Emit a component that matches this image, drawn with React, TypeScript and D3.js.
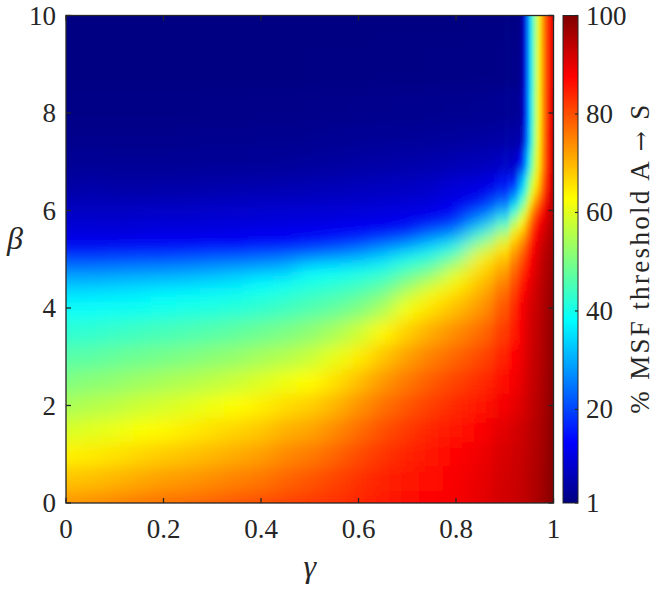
import React from 'react';
import * as d3 from 'd3';

// gamma positions of the sampled columns
const gammaValues = [0, 0.05, 0.1, 0.15, 0.2, 0.25, 0.3, 0.35, 0.4, 0.45, 0.5, 0.55, 0.6, 0.65, 0.7, 0.75, 0.8, 0.85, 0.9, 0.92, 0.935, 0.945, 0.95, 0.955, 0.96, 0.965, 0.97, 0.98, 0.99, 1.0];
// beta positions of the sampled rows
const betaValues = [0, 0.5, 1, 1.5, 2, 2.5, 3, 3.5, 4, 4.25, 4.5, 4.75, 5, 5.25, 5.5, 5.75, 6, 6.25, 6.5, 7, 7.5, 8, 9, 10];

// % MSF threshold, one column per gamma value (rows follow betaValues)
const thresholdByGamma: number[][] = [
  [73, 68.5, 64, 59, 54.5, 50.5, 46.5, 42.5, 38.8, 36, 32, 27, 20, 12.5, 10.5, 9, 7.5, 5.8, 4.3, 3, 2.2, 1.7, 1.3, 1.2],
  [73.5, 69, 64.7, 60, 55.5, 51.3, 47, 42.8, 38.8, 36, 32, 27, 20, 12.5, 10.5, 9, 7.6, 6.2, 4.8, 3.2, 2.2, 1.7, 1.3, 1.2],
  [74.5, 70, 65.6, 61, 56.5, 52.2, 48, 43.6, 39.3, 36.5, 32.5, 27.5, 20.5, 12.5, 10.5, 8.8, 7.5, 6, 4.5, 3, 2.2, 1.7, 1.3, 1.2],
  [75.5, 71.1, 66.8, 62.4, 57.9, 53.4, 48.8, 44.3, 39.8, 37, 33, 28, 21, 13, 10.7, 9, 7.7, 6.1, 4.5, 3, 2.2, 1.7, 1.3, 1.2],
  [76.5, 72.2, 67.8, 63.5, 58.9, 54.3, 49.6, 45, 40.3, 38, 33.5, 28.5, 21, 13, 11, 9.3, 7.9, 6.2, 4.6, 3, 2.2, 1.7, 1.3, 1.2],
  [77, 72.9, 68.8, 64.6, 60.1, 55.3, 50.5, 45.7, 40.9, 38.5, 34, 29, 22, 13.5, 11, 9.3, 8, 6.3, 4.7, 3.1, 2.3, 1.7, 1.3, 1.2],
  [78, 73.9, 69.9, 65.8, 61.5, 56.5, 51.5, 46.5, 41.5, 39, 35, 30, 23, 13.5, 11.3, 9.5, 8.3, 6.7, 5, 3.3, 2.4, 1.8, 1.3, 1.2],
  [79, 75, 71, 67, 63, 57.8, 52.6, 47.5, 42.3, 39.8, 36, 31, 23.5, 14, 11.5, 9.7, 8.5, 6.9, 5.1, 3.3, 2.4, 1.8, 1.3, 1.2],
  [80, 76.1, 72.2, 68.3, 64.3, 59.5, 54.1, 48.7, 43.4, 40.7, 38, 32, 24.5, 14.5, 12, 10, 8.7, 7.1, 5.3, 3.4, 2.5, 1.9, 1.3, 1.2],
  [81, 77.8, 74.3, 70.4, 66.2, 61.3, 55.6, 50.1, 44.6, 41.9, 39.1, 33, 26, 15, 12.3, 10.2, 8.9, 7.3, 5.5, 3.5, 2.5, 1.9, 1.3, 1.2],
  [82, 79.2, 75.7, 71.7, 67.5, 63, 57.4, 51.9, 46.3, 43.6, 40.8, 38, 28, 17, 12.5, 10.5, 9.1, 7.5, 5.8, 3.8, 2.7, 2, 1.4, 1.2],
  [83, 80.9, 77.8, 74.1, 70.1, 65.7, 60.5, 54.3, 48, 44.9, 41.8, 38.6, 30, 19, 13, 10.8, 9.3, 7.7, 6.1, 4.1, 2.9, 2.1, 1.4, 1.2],
  [84, 82.7, 80.2, 77.1, 73.4, 69.2, 64.5, 57.9, 50.7, 47.1, 43.5, 39.9, 32, 22, 13.5, 11.2, 9.6, 8, 6.5, 4.4, 3.1, 2.2, 1.4, 1.2],
  [85, 84.2, 82.4, 79.9, 76.7, 72.9, 68.5, 63.5, 55, 50.5, 46, 41.6, 35, 26, 14.5, 11.6, 10, 8.4, 6.9, 4.7, 3.3, 2.3, 1.5, 1.3],
  [86, 85.5, 84.2, 82.2, 79.5, 76.1, 72.2, 67.6, 62.5, 57.3, 51.6, 45.9, 40.2, 30, 17, 12.3, 10.4, 8.8, 7.3, 5, 3.4, 2.4, 1.5, 1.3],
  [87, 86.7, 85.7, 84.1, 81.8, 78.9, 75.3, 71.1, 66.2, 63.6, 57.3, 50.2, 43.1, 35, 24, 13, 11, 9.3, 7.8, 5.3, 3.6, 2.5, 1.6, 1.3],
  [88.5, 88.2, 87.3, 85.8, 83.8, 81.1, 77.9, 74.1, 69.6, 66.8, 63.6, 59.3, 50.1, 40.9, 29, 17, 12.5, 11, 9.2, 6, 3.9, 2.6, 1.6, 1.3],
  [90, 89.7, 89, 87.7, 85.8, 83.5, 80.7, 77.3, 73.4, 71.3, 69, 66.6, 64, 55, 43, 30, 19, 12.5, 10, 6.5, 4.2, 2.7, 1.7, 1.4],
  [92, 91.8, 91.3, 90.3, 88.5, 86.5, 84.5, 82, 79.5, 77.5, 75, 72, 68.5, 64.5, 55, 42, 29, 18, 12.5, 7.5, 4.6, 3, 1.8, 1.4],
  [92.8, 92.6, 92.2, 91.5, 89.8, 88.5, 87, 85, 83.5, 82, 80, 77.5, 74.5, 70.5, 65, 55, 41, 29, 17, 8, 4.8, 3.2, 2, 1.5],
  [93.5, 93.3, 93, 92.4, 91, 90, 89, 88.3, 88, 86.5, 84.5, 82, 79, 75.5, 70, 63, 52, 40, 30, 12, 5.5, 3.7, 2.5, 2],
  [94, 93.8, 93.5, 93, 92, 91.3, 90.8, 90.3, 90, 89, 87.5, 85.5, 83, 80, 75, 69, 60, 50, 40, 27, 18, 14.5, 13, 13],
  [94.5, 94.3, 94, 93.5, 92.8, 92.2, 91.8, 91.4, 91, 90.3, 89, 87.5, 85.5, 83, 78, 74, 67, 58, 51, 37, 30, 28.5, 28, 28],
  [95, 94.8, 94.5, 94, 93.3, 92.8, 92.4, 92, 91.6, 91, 90, 88.8, 87.5, 85.5, 82, 78, 72, 63, 55, 45, 40, 38.5, 38, 38],
  [95.3, 95.1, 94.8, 94.4, 93.8, 93.3, 93, 92.7, 92.3, 91.8, 91, 90, 89, 87.5, 85, 81.5, 76, 68, 60, 53, 48, 47, 46, 46],
  [95.6, 95.4, 95.2, 94.8, 94.3, 93.9, 93.6, 93.3, 93, 92.5, 92, 91.3, 90.5, 89.5, 87.5, 84.5, 79.5, 72, 64, 59, 57, 56, 55.5, 55],
  [96, 95.8, 95.6, 95.3, 94.8, 94.5, 94.2, 94, 93.7, 93.3, 93, 92.5, 92, 91.2, 89.5, 87, 83, 76, 69, 64.5, 63.5, 63, 62.5, 62],
  [97, 96.8, 96.6, 96.3, 96, 95.8, 95.6, 95.4, 95.2, 95, 94.7, 94.3, 94, 93.3, 92, 90, 87, 83, 79, 76, 75.5, 75, 75, 75],
  [98.3, 98.1, 98, 97.8, 97.5, 97.3, 97.1, 97, 96.9, 96.7, 96.5, 96.2, 95.8, 95.2, 94.5, 93.5, 92, 90, 88, 86.5, 86, 85.5, 85, 85],
  [99.5, 99.4, 99.2, 99, 98.8, 98.6, 98.4, 98.2, 98, 97.8, 97.5, 97.2, 96.8, 96.3, 95.8, 95.3, 95, 94.5, 94, 93, 92, 91, 90, 89],
];

const xTicks = [0, 0.2, 0.4, 0.6, 0.8, 1];
const yTicks = [0, 2, 4, 6, 8, 10];
const colorbarTicks = [1, 20, 40, 60, 80, 100];
const colorbarLabelStart = '% MSF threshold A ';
const colorbarLabelArrow = '\u2192';
const colorbarLabelEnd = ' S';

const W = 664;
const H = 591;
const PL = 66, PR = 553.5, PT = 15.5, PB = 503;
const CBL = 563, CBR = 578;
const FONT = '"Liberation Serif", "DejaVu Serif", serif';
const INK = '#262626';

const jet = (t: number) => {
  const c = (v: number) => Math.max(0, Math.min(1, v));
  const r = c(1.5 - Math.abs(4 * t - 3));
  const g = c(1.5 - Math.abs(4 * t - 2));
  const b = c(1.5 - Math.abs(4 * t - 1));
  return d3.rgb(r * 255, g * 255, b * 255).formatHex();
};

const textStyle = (size: number, italic = false): React.CSSProperties => ({
  fontFamily: FONT,
  fontSize: `${size}px`,
  fontStyle: italic ? 'italic' : 'normal',
  fill: INK,
});

export default function App() {
  const x = d3.scaleLinear().domain([0, 1]).range([PL, PR]);
  const y = d3.scaleLinear().domain([0, 10]).range([PB, PT]);
  const cb = d3.scaleLinear().domain([1, 100]).range([PB, PT]);
  const color = d3.scaleSequential(jet).domain([1, 100]);

  const edges = (v: number[], lo: number, hi: number) => {
    const e: number[] = [lo];
    for (let i = 0; i < v.length - 1; i++) e.push((v[i] + v[i + 1]) / 2);
    e.push(hi);
    return e;
  };
  const gE = edges(gammaValues, -0.08, 1.08);
  const bE = edges(betaValues, -0.8, 10.8);

  const cells = (startCol: number, leftOverride?: number) => {
    const out: JSX.Element[] = [];
    for (let i = startCol; i < gammaValues.length; i++) {
      const gl = i === startCol && leftOverride !== undefined ? leftOverride : gE[i];
      const x0 = x(gl);
      const x1 = x(gE[i + 1]);
      for (let j = 0; j < betaValues.length; j++) {
        const y0 = y(bE[j + 1]);
        const y1 = y(bE[j]);
        out.push(
          <rect key={`${startCol}-${i}-${j}`} x={x0 - 0.3} y={y0 - 0.3} width={x1 - x0 + 0.6} height={y1 - y0 + 0.6}
            fill={color(thresholdByGamma[i][j])} />
        );
      }
    }
    return out;
  };
  const fineStart = gammaValues.indexOf(0.85);

  const jetStops = [0, 1 / 8, 3 / 8, 5 / 8, 7 / 8, 1];

  return (
    <svg width={W} height={H} style={{ position: 'absolute', left: 0, top: 0, background: '#fff' }}>
      <defs>
        <clipPath id="plotClip">
          <rect x={PL} y={PT} width={PR - PL} height={PB - PT} />
        </clipPath>
        <filter id="blurWide" filterUnits="userSpaceOnUse" x={0} y={0} width={W} height={H}>
          <feGaussianBlur stdDeviation="10 8" />
        </filter>
        <filter id="blurFine" filterUnits="userSpaceOnUse" x={0} y={0} width={W} height={H}>
          <feGaussianBlur stdDeviation="2.4 7" />
        </filter>
        <linearGradient id="fadeIn" gradientUnits="userSpaceOnUse" x1={x(0.872)} y1={0} x2={x(0.912)} y2={0}>
          <stop offset={0} stopColor="#fff" stopOpacity={0} />
          <stop offset={1} stopColor="#fff" stopOpacity={1} />
        </linearGradient>
        <mask id="fineMask" maskUnits="userSpaceOnUse" x={0} y={0} width={W} height={H}>
          <rect x={0} y={0} width={W} height={H} fill="url(#fadeIn)" />
        </mask>
        <linearGradient id="cbGrad" x1="0" y1="1" x2="0" y2="0">
          {jetStops.map((t) => (
            <stop key={t} offset={t} stopColor={jet(t)} />
          ))}
        </linearGradient>
      </defs>

      <g clipPath="url(#plotClip)">
        <g filter="url(#blurWide)">{cells(0)}</g>
        <g mask="url(#fineMask)">
          <g filter="url(#blurFine)">{cells(fineStart, (gammaValues[fineStart - 1] + gammaValues[fineStart]) / 2)}</g>
        </g>
      </g>

      {/* axes box */}
      <rect x={PL} y={PT} width={PR - PL} height={PB - PT} fill="none" stroke={INK} strokeWidth={1.3} />
      {xTicks.map((t) => (
        <g key={`xt${t}`}>
          <line x1={x(t)} x2={x(t)} y1={PB} y2={PB - 5} stroke={INK} strokeWidth={1.3} />
          <line x1={x(t)} x2={x(t)} y1={PT} y2={PT + 5} stroke={INK} strokeWidth={1.3} />
          <text x={x(t)} y={538} textAnchor="middle" style={textStyle(27)}>{String(t)}</text>
        </g>
      ))}
      {yTicks.map((t) => (
        <g key={`yt${t}`}>
          <line x1={PL} x2={PL + 5} y1={y(t)} y2={y(t)} stroke={INK} strokeWidth={1.3} />
          <line x1={PR} x2={PR - 5} y1={y(t)} y2={y(t)} stroke={INK} strokeWidth={1.3} />
          <text x={56} y={y(t) + 9} textAnchor="end" style={textStyle(27)}>{String(t)}</text>
        </g>
      ))}
      <text x={(PL + PR) / 2} y={577} textAnchor="middle" style={textStyle(32, true)}>γ</text>
      <text x={15} y={249} textAnchor="middle" style={textStyle(32, true)}>β</text>

      {/* colorbar */}
      <rect x={CBL} y={PT} width={CBR - CBL} height={PB - PT} fill="url(#cbGrad)" stroke={INK} strokeWidth={1} />
      {colorbarTicks.map((t) => (
        <g key={`ct${t}`}>
          <line x1={CBR} x2={CBR - 3} y1={cb(t)} y2={cb(t)} stroke={INK} strokeWidth={1.2} />
          <text x={586} y={cb(t) + 9} textAnchor="start" style={textStyle(27)}>{String(t)}</text>
        </g>
      ))}
      <text transform={`translate(649, ${(PT + PB) / 2}) rotate(-90)`} textAnchor="middle" style={textStyle(27)}
        textLength={309} lengthAdjust="spacing">
        {colorbarLabelStart}
        <tspan style={{ fontFamily: '"DejaVu Serif", serif', fontSize: '24px' }}>{colorbarLabelArrow}</tspan>
        {colorbarLabelEnd}
      </text>
    </svg>
  );
}
